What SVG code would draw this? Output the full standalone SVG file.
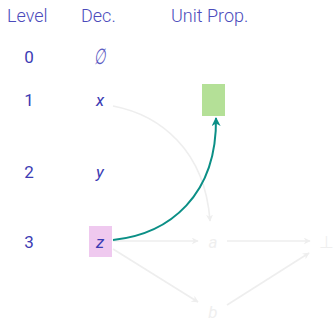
<svg xmlns="http://www.w3.org/2000/svg" width="334" height="321" viewBox="0 0 334 321">
<defs>
<style>
.hdr{font-family:Roboto,"Liberation Sans",sans-serif;font-weight:300;font-size:18px;fill:#4b4bbb}
.num{font-family:Roboto,"Liberation Sans",sans-serif;font-size:17px;fill:#3c3cb4;text-anchor:middle}
.var{font-family:Roboto,"Liberation Sans",sans-serif;font-style:italic;font-size:17px;fill:#3c3cb4;text-anchor:middle}
.ghost{font-family:Roboto,"Liberation Sans",sans-serif;font-style:italic;font-size:17px;fill:#efefef;text-anchor:middle}
.g{fill:none;stroke:#eeeeee;stroke-width:1.6}
.t{fill:none;stroke:#0b8f86;stroke-width:2}
</style>
<marker id="ag" viewBox="0 0 10 10" refX="9" refY="5" markerWidth="7" markerHeight="7" orient="auto" markerUnits="userSpaceOnUse"><path d="M0,0 L10,5 L0,10 L3,5 z" fill="#eeeeee"/></marker>
<marker id="at" viewBox="0 0 10 10" refX="9" refY="5" markerWidth="9" markerHeight="9" orient="auto" markerUnits="userSpaceOnUse"><path d="M0,0 L10,5 L0,10 L3,5 z" fill="#0b8f86"/></marker>
</defs>
<g id="headers">
<text class="hdr" x="7" y="22">Level</text>
<text class="hdr" x="81" y="22">Dec.</text>
<text class="hdr" x="171" y="22">Unit Prop.</text>
</g>
<g id="levels">
<text class="num" x="29" y="63">0</text>
<text class="num" x="29" y="106">1</text>
<text class="num" x="29" y="178">2</text>
<text class="num" x="29" y="248">3</text>
</g>
<g id="connectors">
<path class="g" d="M113,106 C160,115 205,150 210,221" marker-end="url(#ag)"/>
<path class="g" d="M113,241 L198,241" marker-end="url(#ag)"/>
<path class="g" d="M227,241 L310,241" marker-end="url(#ag)"/>
<path class="g" d="M113,249 L198,302" marker-end="url(#ag)"/>
<path class="g" d="M227,305 L309,253" marker-end="url(#ag)"/>
<path class="t" d="M113,240 C170,234 217,195 216,118" marker-end="url(#at)"/>
</g>
<g id="dec0"><text class="var" transform="translate(100,64) scale(0.6,1)" x="0" y="0" style="font-weight:300;font-size:22px;fill:#5a5ac2">∅</text></g>
<g id="decx"><text class="var" x="100" y="106">x</text></g>
<g id="decy"><text class="var" x="100" y="178">y</text></g>
<g id="decz"><rect x="89" y="226" width="23" height="31" fill="#efc9ef"/><text class="var" x="100" y="248">z</text></g>
<g id="unit"><rect x="202" y="84" width="23" height="32" fill="#b4e097"/></g>
<g id="a"><text class="ghost" x="213" y="248">a</text></g>
<g id="b"><text class="ghost" x="213" y="318">b</text></g>
<g id="bot"><text class="ghost" x="326" y="248" style="font-style:normal">⊥</text></g>
</svg>
